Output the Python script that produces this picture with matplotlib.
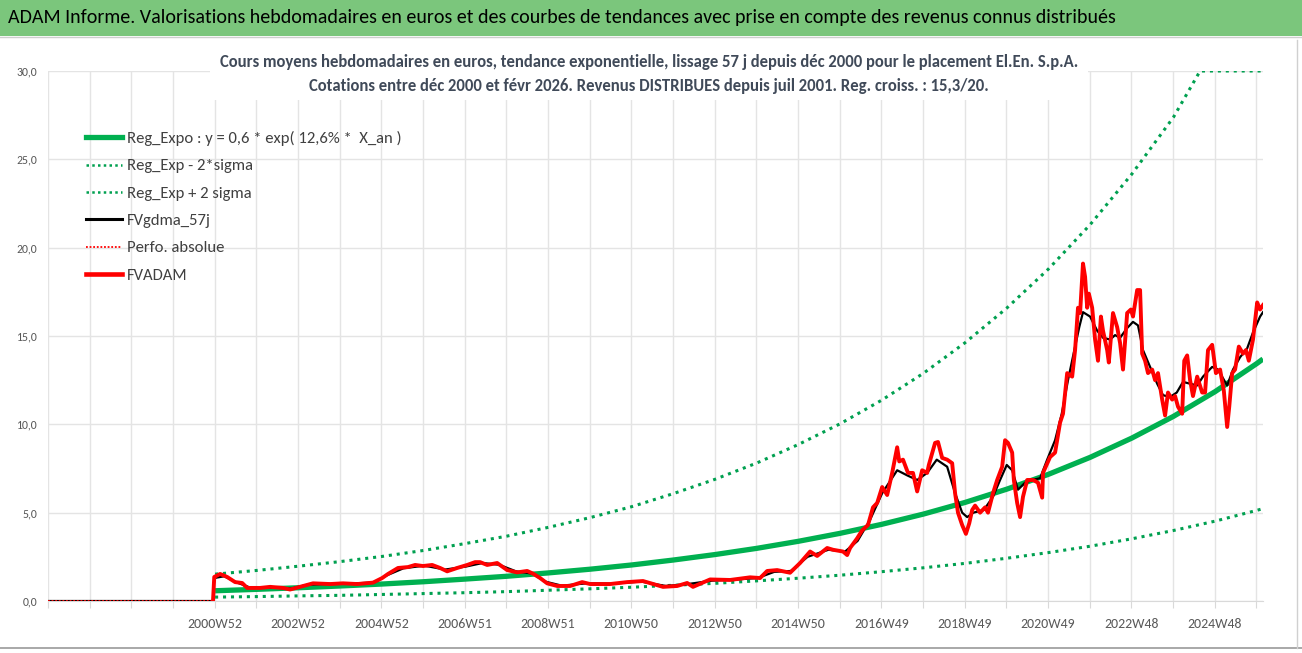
import matplotlib
matplotlib.use("Agg")
import matplotlib.pyplot as plt
from matplotlib import font_manager
from matplotlib.patches import Rectangle
from matplotlib.lines import Line2D

# ---------------- DATA ----------------
zero_years = [1996.97, 2000.93]
zero_vals = [0.0, 0.0]

adam_years = [2000.96, 2001.10, 2001.27, 2001.46, 2001.63, 2001.75, 2002.06, 2002.30,
              2002.61, 2002.78, 2003.09, 2003.33, 2003.74, 2004.05, 2004.39, 2004.77,
              2004.99, 2005.13, 2005.37, 2005.61, 2005.78, 2005.97, 2006.19, 2006.38,
              2006.55, 2006.79, 2007.03, 2007.22, 2007.34, 2007.51, 2007.75, 2007.99,
              2008.23, 2008.47, 2008.61, 2008.78, 2008.95, 2009.19, 2009.50, 2009.79,
              2009.98, 2010.46, 2010.87, 2011.25, 2011.59, 2011.73, 2012.07, 2012.31,
              2012.45, 2012.86, 2013.34, 2013.82, 2014.06, 2014.23, 2014.47, 2014.78,
              2015.02, 2015.26, 2015.43, 2015.67, 2015.81, 2016.05, 2016.15, 2016.22,
              2016.39, 2016.51, 2016.65, 2016.77, 2016.87, 2016.99, 2017.11, 2017.23,
              2017.35, 2017.40, 2017.49, 2017.61, 2017.73, 2017.83, 2017.95, 2018.07,
              2018.11, 2018.26, 2018.33, 2018.43, 2018.55, 2018.67, 2018.74, 2018.81,
              2018.91, 2019.00, 2019.08, 2019.15, 2019.22, 2019.34, 2019.46, 2019.53,
              2019.65, 2019.75, 2019.87, 2019.94, 2020.01, 2020.11, 2020.15, 2020.23,
              2020.30, 2020.37, 2020.47, 2020.61, 2020.73, 2020.83, 2020.85, 2021.02,
              2021.14, 2021.26, 2021.33, 2021.43, 2021.55, 2021.62, 2021.69, 2021.74,
              2021.81, 2021.86, 2021.91, 2021.95, 2022.03, 2022.10, 2022.17, 2022.24,
              2022.29, 2022.39, 2022.43, 2022.53, 2022.63, 2022.70, 2022.77, 2022.87,
              2022.96, 2023.01, 2023.11, 2023.18, 2023.23, 2023.30, 2023.37, 2023.47,
              2023.54, 2023.61, 2023.71, 2023.78, 2023.85, 2023.95, 2024.02, 2024.09,
              2024.19, 2024.24, 2024.31, 2024.38, 2024.45, 2024.55, 2024.67, 2024.74,
              2024.81, 2024.91, 2025.00, 2025.10, 2025.19, 2025.27, 2025.32, 2025.39,
              2025.46, 2025.55, 2025.65, 2025.72, 2025.79, 2025.89, 2025.99, 2026.06,
              2026.13]
adam_vals = [1.36, 1.53, 1.36, 1.07, 1.02, 0.74, 0.74, 0.80,
             0.74, 0.65, 0.85, 1.00, 0.96, 1.00, 0.96, 1.04,
             1.30, 1.53, 1.87, 1.92, 2.04, 1.98, 2.04, 1.87,
             1.68, 1.87, 2.04, 2.20, 2.20, 2.04, 2.15, 1.75,
             1.62, 1.70, 1.55, 1.30, 1.00, 0.85, 0.85, 1.07,
             0.96, 0.96, 1.07, 1.13, 0.90, 0.80, 0.85, 1.02,
             0.80, 1.22, 1.19, 1.34, 1.30, 1.70, 1.75, 1.60,
             2.15, 2.80, 2.55, 3.00, 2.90, 2.80, 2.60, 3.00,
             3.55, 4.00, 4.30, 5.30, 5.55, 6.45, 6.00, 7.25,
             8.70, 7.90, 8.00, 7.25, 7.25, 6.20, 7.40, 7.25,
             7.70, 8.95, 9.00, 8.10, 8.00, 7.80, 6.10, 5.00,
             4.30, 3.80, 4.40, 5.15, 5.40, 5.00, 5.30, 5.00,
             6.10, 6.85, 7.60, 9.10, 8.95, 8.40, 6.85, 5.55,
             4.75, 5.90, 6.85, 6.85, 6.70, 5.85, 7.25, 8.15,
             8.40, 10.10, 10.60, 12.90, 12.70, 14.20, 16.60, 16.30,
             19.10, 18.35, 16.60, 17.40, 16.60, 14.80, 13.60, 16.10,
             15.30, 14.20, 13.50, 16.30, 15.50, 14.60, 13.10, 16.30,
             16.50, 16.10, 17.60, 17.60, 14.00, 13.60, 12.90, 13.10,
             12.50, 12.90, 11.40, 10.50, 11.80, 11.40, 11.60, 11.00,
             10.60, 13.60, 13.90, 12.50, 11.60, 12.70, 11.80, 11.80,
             14.20, 14.50, 12.90, 13.10, 11.90, 9.85, 11.00, 12.90,
             13.10, 14.40, 14.00, 14.20, 13.60, 14.80, 16.90, 16.50,
             16.75]

gdma_years = [2000.96, 2001.20, 2001.50, 2001.80, 2002.30, 2002.80, 2003.20, 2003.70,
              2004.20, 2004.80, 2005.10, 2005.50, 2006.00, 2006.50, 2007.00, 2007.40,
              2007.80, 2008.20, 2008.60, 2008.90, 2009.30, 2009.90, 2010.50, 2011.20,
              2011.80, 2012.30, 2012.90, 2013.50, 2014.00, 2014.40, 2014.80, 2015.20,
              2015.70, 2016.10, 2016.40, 2016.70, 2016.99, 2017.35, 2017.60, 2017.83,
              2018.07, 2018.30, 2018.55, 2018.74, 2018.91, 2019.03, 2019.18, 2019.43,
              2019.65, 2019.82, 2019.98, 2020.11, 2020.25, 2020.42, 2020.59, 2020.78,
              2020.95, 2021.14, 2021.30, 2021.45, 2021.62, 2021.72, 2021.81, 2021.98,
              2022.15, 2022.29, 2022.46, 2022.58, 2022.70, 2022.87, 2023.01, 2023.13,
              2023.25, 2023.42, 2023.59, 2023.73, 2023.90, 2024.06, 2024.21, 2024.38,
              2024.55, 2024.69, 2024.91, 2025.05, 2025.27, 2025.41, 2025.58, 2025.75,
              2025.89, 2026.06, 2026.13]
gdma_vals = [1.30, 1.40, 1.05, 0.78, 0.77, 0.70, 0.92, 0.97,
             0.98, 1.05, 1.45, 1.85, 2.00, 1.78, 1.95, 2.15,
             2.05, 1.68, 1.55, 1.10, 0.87, 1.00, 0.98, 1.10,
             0.85, 0.95, 1.15, 1.22, 1.30, 1.65, 1.70, 2.50,
             2.90, 2.80, 3.40, 4.60, 6.10, 7.40, 7.10, 6.85,
             7.25, 8.00, 7.60, 6.10, 5.00, 4.75, 5.00, 5.15,
             5.90, 6.85, 7.70, 7.40, 6.30, 6.70, 6.85, 6.95,
             8.00, 9.10, 10.60, 12.50, 14.40, 15.50, 16.35, 16.10,
             15.30, 14.90, 14.80, 15.05, 14.90, 15.45, 15.80, 15.60,
             14.20, 13.25, 12.30, 11.65, 11.55, 11.80, 12.40, 12.30,
             12.20, 12.70, 13.25, 13.10, 12.20, 13.10, 13.80, 14.30,
             15.20, 16.10, 16.35]

reg_years = [2000.98, 2001.98, 2002.98, 2003.98, 2004.98, 2005.98, 2006.98, 2007.98,
             2008.98, 2009.98, 2010.98, 2011.98, 2012.98, 2013.98, 2014.98, 2015.98,
             2016.98, 2017.98, 2018.98, 2019.98, 2020.98, 2021.98, 2022.98, 2023.98,
             2024.98, 2025.98, 2026.13]
reg_vals = [0.58, 0.66, 0.75, 0.85, 0.96, 1.09, 1.24, 1.40,
            1.59, 1.80, 2.04, 2.32, 2.63, 2.98, 3.38, 3.83,
            4.34, 4.92, 5.58, 6.33, 7.17, 8.13, 9.22, 10.45,
            11.85, 13.44, 13.70]
reg_lo_vals = [0.22, 0.25, 0.29, 0.32, 0.37, 0.42, 0.47, 0.53,
               0.61, 0.69, 0.78, 0.89, 1.00, 1.14, 1.29, 1.46,
               1.66, 1.88, 2.13, 2.42, 2.74, 3.10, 3.52, 3.99,
               4.52, 5.13, 5.23]
reg_hi_years = [2000.98, 2001.98, 2002.98, 2003.98, 2004.98, 2005.98, 2006.98, 2007.98,
                2008.98, 2009.98, 2010.98, 2011.98, 2012.98, 2013.98, 2014.98, 2015.98,
                2016.98, 2017.98, 2018.98, 2019.98, 2020.98, 2021.98, 2022.98, 2023.98,
                2024.62, 2024.98, 2025.98, 2026.13]
reg_hi_vals = [1.52, 1.73, 1.97, 2.23, 2.52, 2.86, 3.25, 3.67,
               4.17, 4.72, 5.34, 6.08, 6.89, 7.81, 8.86, 10.03,
               11.37, 12.89, 14.62, 16.58, 18.79, 21.30, 24.16, 27.38,
               30.0, 30.0, 30.0, 30.0]

grid_years = [1996.97 + k for k in range(30)]
tick_labels = ["2000W52", "2002W52", "2004W52", "2006W51", "2008W51", "2010W50", "2012W50",
               "2014W50", "2016W49", "2018W49", "2020W49", "2022W48", "2024W48"]
y_ticks = [0, 5, 10, 15, 20, 25, 30]

legend_labels = ["Reg_Expo : y = 0,6 * exp( 12,6% *  X_an )", "Reg_Exp - 2*sigma",
                 "Reg_Exp + 2 sigma", "FVgdma_57j", "Perfo. absolue", "FVADAM"]

TITLE = ("ADAM Informe. Valorisations hebdomadaires en euros et des courbes de tendances "
         "avec prise en compte des revenus connus distribués")
SUB1 = ("Cours moyens hebdomadaires en euros, tendance exponentielle, lissage 57 j depuis "
        "déc 2000 pour le placement El.En. S.p.A.")
SUB2 = ("Cotations entre déc 2000 et févr 2026. Revenus DISTRIBUES depuis juil 2001. "
        "Reg. croiss. : 15,3/20.")

# ---------------- STYLE ----------------
avail = {f.name for f in font_manager.fontManager.ttflist}
FONT = "DejaVu Sans"
for fam in ["Carlito", "Lato", "Open Sans"]:
    if fam in avail:
        FONT = fam
        break
plt.rcParams["font.family"] = [FONT, "DejaVu Sans"]

W, H = 1302, 653
GREEN = "#00B050"
GREEN_DOT = "#00A050"
GRID = "#E4E4E4"
TXT = "#595959"

fig = plt.figure(figsize=(W / 100, H / 100), dpi=100)
ax = fig.add_axes([48 / W, 52 / H, 1215 / W, 530 / H])

dots = (0, (1, 1.6))
ax.plot(reg_years, reg_vals, color=GREEN, lw=3.8, solid_capstyle="butt", zorder=3)
ax.plot(reg_years, reg_lo_vals, color=GREEN_DOT, lw=2.2, ls=dots, zorder=3)
ax.plot(reg_hi_years, reg_hi_vals, color=GREEN_DOT, lw=2.2, ls=dots, zorder=3)
ax.plot(zero_years + gdma_years, zero_vals + gdma_vals, color="black", lw=1.6, zorder=4)
ax.plot(zero_years, zero_vals, color="#FF0000", lw=1.3, ls=(0, (1, 1)), zorder=5)
ax.plot(zero_years[-1:] + adam_years, zero_vals[-1:] + adam_vals, color="#FF0000",
        lw=2.8, solid_joinstyle="round", zorder=6)

ax.set_xlim(1996.97, 2026.13)
ax.set_ylim(0, 30)
ax.set_xticks(grid_years)
ax.set_xticklabels([tick_labels[(k - 4) // 2] if k >= 4 and k % 2 == 0 else ""
                    for k in range(len(grid_years))])
ax.set_yticks(y_ticks)
ax.set_yticklabels([f"{v:.1f}".replace(".", ",") for v in y_ticks])
ax.grid(True, color=GRID, lw=1.0, zorder=0)
ax.set_axisbelow(True)
for s in ("top", "right", "left"):
    ax.spines[s].set_visible(False)
ax.spines["bottom"].set_color("#D9D9D9")
ax.tick_params(axis="x", length=5, color="#D9D9D9", pad=7, labelsize=10, labelcolor=TXT)
ax.tick_params(axis="y", length=0, pad=8, labelsize=8.5, labelcolor=TXT)

handles = [Line2D([], [], color=GREEN, lw=3.8),
           Line2D([], [], color=GREEN_DOT, lw=1.8, ls=(0, (1, 1.3))),
           Line2D([], [], color=GREEN_DOT, lw=1.8, ls=(0, (1, 1.3))),
           Line2D([], [], color="black", lw=2.2),
           Line2D([], [], color="#FF0000", lw=1.3, ls=(0, (1, 1))),
           Line2D([], [], color="#FF0000", lw=3.3)]
leg = ax.legend(handles, legend_labels, loc="upper left", frameon=False,
                bbox_to_anchor=(86 / W, 1 - 131 / H), bbox_transform=fig.transFigure,
                fontsize=12, handlelength=2.15, handletextpad=0.3, labelspacing=0.76,
                borderaxespad=0, borderpad=0)
for t in leg.get_texts():
    t.set_color("#404040")

# title band + subtitle with white backing over the grid
fig.add_artist(Rectangle((0, 1 - 36 / H), 1, 36 / H, transform=fig.transFigure,
                         facecolor="#7BC67C", edgecolor="none", zorder=1))
fig.add_artist(Line2D([0, 1], [1 - 37 / H] * 2, transform=fig.transFigure,
                      color="#CFCFCF", lw=1, zorder=1))
fig.text(8 / W, 1 - 18 / H, TITLE, fontsize=14.4, color="black", va="center",
         ha="left", zorder=2)
fig.add_artist(Rectangle((210 / W, 1 - 100 / H), 878 / W, 55 / H,
                         transform=fig.transFigure, facecolor="white",
                         edgecolor="none", zorder=5))
fig.text(649 / W, 1 - 62 / H, SUB1, fontsize=12, fontweight="bold", color="#404A59",
         ha="center", va="center", zorder=6)
fig.text(649 / W, 1 - 86 / H, SUB2, fontsize=12, fontweight="bold", color="#404A59",
         ha="center", va="center", zorder=6)

# chart frame bits
fig.add_artist(Line2D([0, 1], [1 - 648 / H] * 2, transform=fig.transFigure,
                      color="#9A9A9A", lw=1.2, zorder=1))
fig.add_artist(Line2D([1297 / W] * 2, [1 - 648 / H, 1 - 40 / H], transform=fig.transFigure,
                      color="#D0D0D0", lw=1, zorder=1))

fig.savefig("out.png", dpi=100)
